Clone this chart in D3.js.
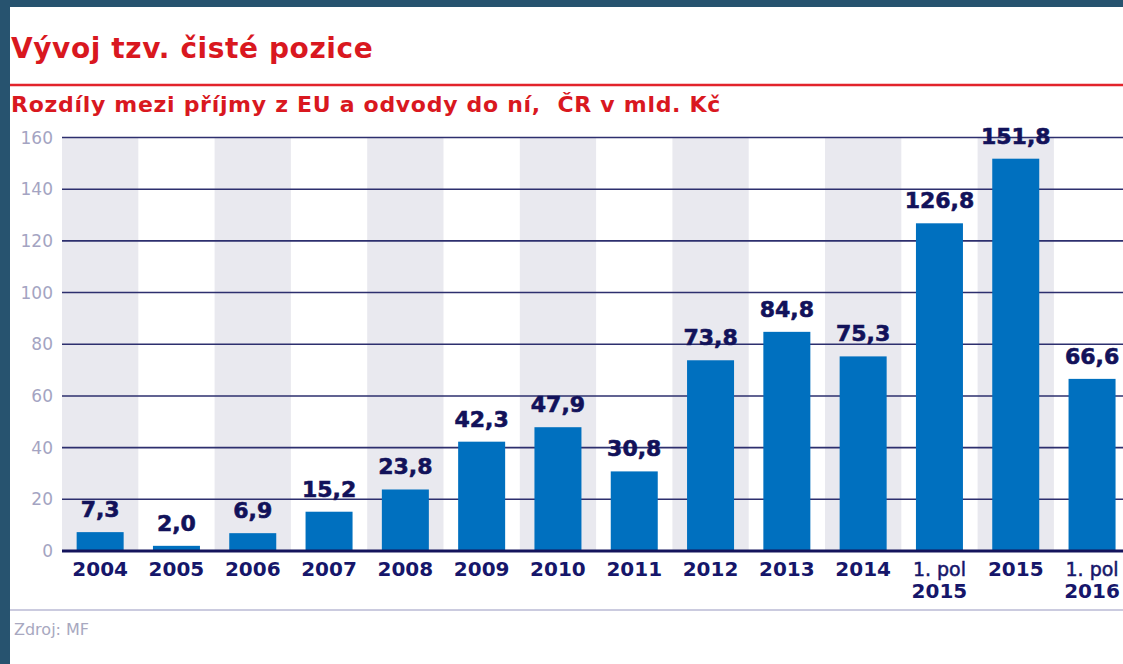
<!DOCTYPE html>
<html>
<head>
<meta charset="utf-8">
<script src="https://cdn.jsdelivr.net/npm/d3@7"></script>
<style>
  body { margin: 0; background: #27536f; }
  svg { display: block; }
</style>
</head>
<body>
<svg id="chart" width="1123" height="664"></svg>
<script>
// data
var categories = ["2004", "2005", "2006", "2007", "2008", "2009", "2010", "2011",
                  "2012", "2013", "2014", "1. pol|2015", "2015", "1. pol|2016"];
var values = [7.3, 2.0, 6.9, 15.2, 23.8, 42.3, 47.9, 30.8, 73.8, 84.8, 75.3, 126.8, 151.8, 66.6];
var yTicks = [0, 20, 40, 60, 80, 100, 120, 140, 160];
var titleText = "Vývoj tzv. čisté pozice";
var subtitleText = "Rozdíly mezi příjmy z EU a odvody do ní,  ČR v mld. Kč";
var sourceText = "Zdroj: MF";

var W = 1123, H = 664;
var svg = d3.select("#chart");

// ramecek a bily panel
svg.append("rect").attr("x", 0).attr("y", 0).attr("width", W).attr("height", H).attr("fill", "#27536f");
svg.append("rect").attr("x", 10).attr("y", 7).attr("width", W - 10).attr("height", H - 7).attr("fill", "#ffffff");

// nadpis
svg.append("text")
  .attr("x", 11).attr("y", 58)
  .attr("fill", "#d9181f")
  .style("font-family", "DejaVu Sans")
  .style("font-weight", "bold")
  .style("font-size", "28px")
  .style("letter-spacing", "0.6px")
  .text(titleText);

svg.append("line")
  .attr("x1", 10).attr("x2", W).attr("y1", 85).attr("y2", 85)
  .attr("stroke", "#e2232b").attr("stroke-width", 2.5);

svg.append("text")
  .attr("x", 11).attr("y", 112)
  .attr("fill", "#d9181f")
  .attr("xml:space", "preserve")
  .style("white-space", "pre")
  .style("font-family", "DejaVu Sans")
  .style("font-weight", "bold")
  .style("font-size", "22px")
  .style("letter-spacing", "0.7px")
  .text(subtitleText);

// skaly
var plotLeft = 62, step = 76.3;
var x = d3.scaleBand()
  .domain(categories)
  .range([plotLeft, plotLeft + step * categories.length])
  .padding(0);
var y = d3.scaleLinear().domain([0, 160]).range([551, 137.5]);
var barW = 47;

// sede pruhy
svg.append("g").selectAll("rect")
  .data(categories.filter(function(d, i){ return i % 2 === 0; }))
  .enter().append("rect")
  .attr("x", function(d){ return x(d); })
  .attr("y", y(160))
  .attr("width", x.bandwidth())
  .attr("height", y(0) - y(160))
  .attr("fill", "#e9e9ef");

// mrizka
svg.append("g").selectAll("line")
  .data(yTicks.filter(function(d){ return d > 0; }))
  .enter().append("line")
  .attr("x1", plotLeft).attr("x2", W)
  .attr("y1", function(d){ return y(d); })
  .attr("y2", function(d){ return y(d); })
  .attr("stroke", "#2d2f6e").attr("stroke-width", 1.6);

// popisky osy y
svg.append("g").selectAll("text")
  .data(yTicks)
  .enter().append("text")
  .attr("x", 53)
  .attr("y", function(d){ return y(d) + 6; })
  .attr("text-anchor", "end")
  .attr("fill", "#a4a4c2")
  .style("font-family", "DejaVu Sans")
  .style("font-size", "17px")
  .text(function(d){ return d; });

// sloupce
svg.append("g").selectAll("rect")
  .data(values)
  .enter().append("rect")
  .attr("x", function(d, i){ return x(categories[i]) + (x.bandwidth() - barW) / 2; })
  .attr("y", function(d){ return y(d); })
  .attr("width", barW)
  .attr("height", function(d){ return y(0) - y(d); })
  .attr("fill", "#0070bf");

// osa x
svg.append("line")
  .attr("x1", plotLeft).attr("x2", W).attr("y1", y(0)).attr("y2", y(0))
  .attr("stroke", "#14145c").attr("stroke-width", 3);

// hodnoty
svg.append("g").selectAll("text")
  .data(values)
  .enter().append("text")
  .attr("x", function(d, i){ return x(categories[i]) + x.bandwidth() / 2; })
  .attr("y", function(d){ return y(d) - 15; })
  .attr("text-anchor", "middle")
  .attr("fill", "#12125a")
  .attr("stroke", "#12125a").attr("stroke-width", 0.6)
  .style("font-family", "DejaVu Sans")
  .style("font-weight", "bold")
  .style("font-size", "22px")
  .text(function(d){ return d.toFixed(1).replace(".", ","); });

// popisky kategorii
var catG = svg.append("g").selectAll("text")
  .data(categories)
  .enter().append("text")
  .attr("x", function(d){ return x(d) + x.bandwidth() / 2; })
  .attr("y", 576)
  .attr("text-anchor", "middle")
  .attr("fill", "#16166a")
  .style("font-family", "DejaVu Sans")
  .style("font-size", "20px");

catG.each(function(d){
  var parts = d.split("|");
  var t = d3.select(this);
  if (parts.length === 1) {
    t.style("font-weight", "bold").text(d);
  } else {
    t.append("tspan")
      .attr("x", t.attr("x"))
      .style("font-size", "19px")
      .attr("stroke", "#16166a").attr("stroke-width", 0.5)
      .text(parts[0]);
    t.append("tspan")
      .attr("x", t.attr("x")).attr("dy", 22)
      .style("font-weight", "bold")
      .text(parts[1]);
  }
});

// spodni cara a zdroj
svg.append("line")
  .attr("x1", 10).attr("x2", W).attr("y1", 610).attr("y2", 610)
  .attr("stroke", "#babad4").attr("stroke-width", 1.5);

svg.append("text")
  .attr("x", 14).attr("y", 635)
  .attr("fill", "#a8a8c0")
  .style("font-family", "DejaVu Sans")
  .style("font-size", "16px")
  .text(sourceText);
</script>
</body>
</html>
